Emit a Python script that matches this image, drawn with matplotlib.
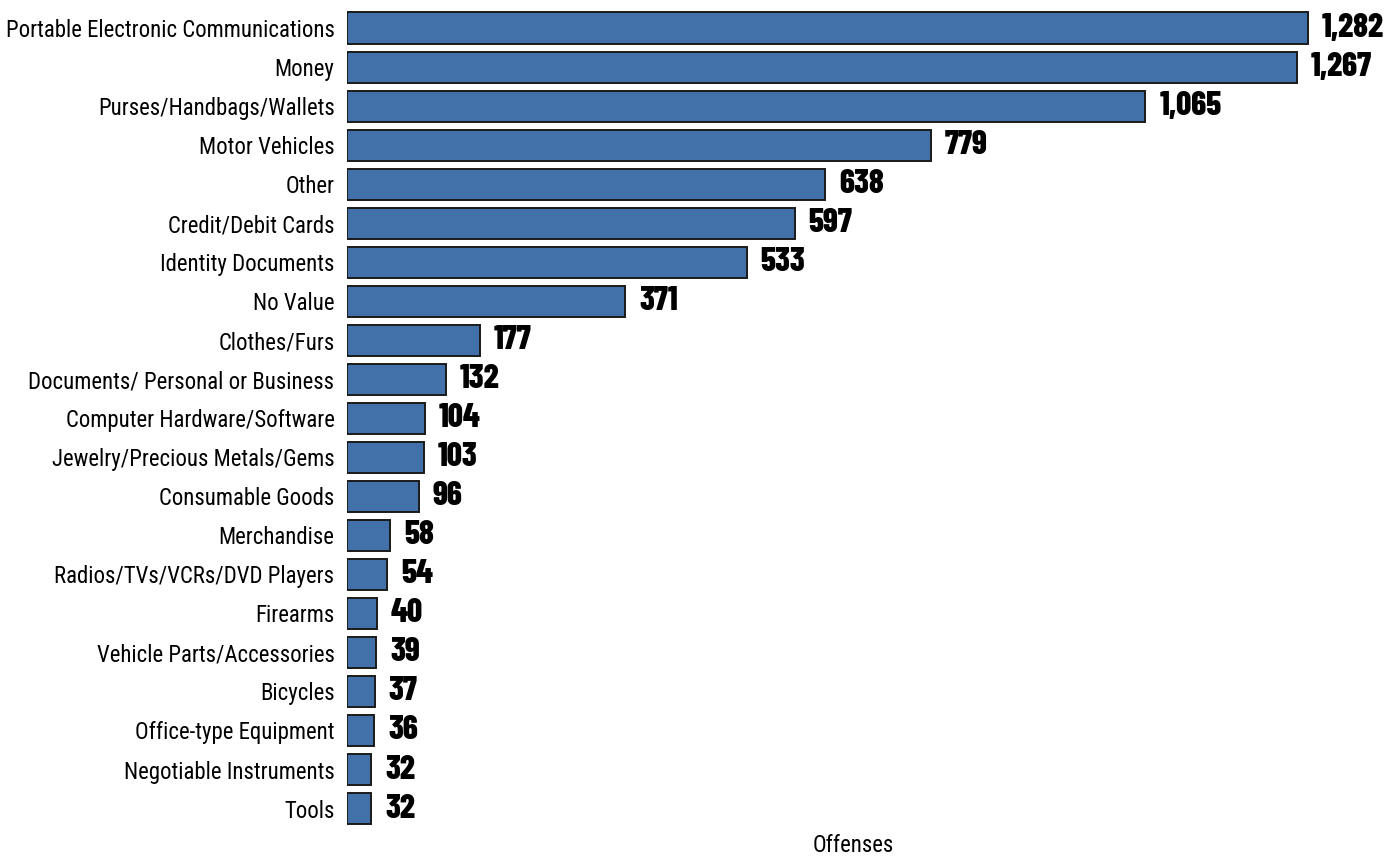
import matplotlib.pyplot as plt

categories = [
    "Portable Electronic Communications", "Money", "Purses/Handbags/Wallets",
    "Motor Vehicles", "Other", "Credit/Debit Cards", "Identity Documents",
    "No Value", "Clothes/Furs", "Documents/ Personal or Business",
    "Computer Hardware/Software", "Jewelry/Precious Metals/Gems",
    "Consumable Goods", "Merchandise", "Radios/TVs/VCRs/DVD Players",
    "Firearms", "Vehicle Parts/Accessories", "Bicycles",
    "Office-type Equipment", "Negotiable Instruments", "Tools",
]
offenses = [1282, 1267, 1065, 779, 638, 597, 533, 371, 177, 132, 104, 103,
            96, 58, 54, 40, 39, 37, 36, 32, 32]

label_fonts = ["Roboto Condensed", "Barlow Condensed", "DejaVu Sans"]
number_fonts = ["Barlow Condensed", "Roboto Condensed", "DejaVu Sans"]
plt.rcParams["font.family"] = label_fonts

fig = plt.figure(figsize=(13.99, 8.58), dpi=100)
ax = fig.add_axes([347 / 1399, 1 - 830 / 858, (1359 - 347) / 1399, 830 / 858])

pos = list(range(len(categories)))
ax.barh(pos, offenses, height=0.8, color="#4271AA", edgecolor="#1a1a1a",
        linewidth=1.4)

# value labels right of each bar
for y, v in zip(pos, offenses):
    ax.annotate(f"{v:,}", (v, y), xytext=(10, 0), textcoords="offset points",
                va="center", ha="left", fontsize=24, fontweight=800,
                family=number_fonts, color="black")

ax.set_xlim(0, 1350)
ax.set_ylim(20.55, -0.72)
ax.set_yticks(pos)
ax.set_yticklabels(categories, fontsize=16.4)
ax.tick_params(axis="y", length=0, pad=9)
ax.set_xticks([])
for s in ax.spines.values():
    s.set_visible(False)

fig.text(853 / 1399, 1 - 846 / 858, "Offenses", ha="center", va="center",
         fontsize=16.4)

fig.savefig("out.png", dpi=100)
